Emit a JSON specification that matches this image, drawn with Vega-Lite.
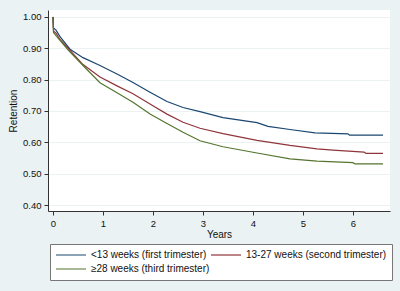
{
  "$schema": "https://vega.github.io/schema/vega-lite/v6.json",
  "width": 342,
  "height": 201,
  "autosize": {"type": "none"},
  "padding": {"left": 48, "top": 10, "right": 10, "bottom": 80},
  "background": "#eaf2f3",
  "config": {
    "view": {"fill": "white", "stroke": null},
    "font": "Liberation Sans",
    "axis": {
      "domainColor": "#333333",
      "tickColor": "#333333",
      "labelColor": "#111111",
      "titleColor": "#111111",
      "labelFont": "Liberation Sans",
      "titleFont": "Liberation Sans",
      "labelFontSize": 9.5,
      "titleFontSize": 10,
      "titleFontWeight": "normal",
      "tickSize": 4,
      "domainWidth": 1,
      "tickWidth": 1
    }
  },
  "data": {
    "values": [
      {"g": "<13 weeks (first trimester)", "t": 0, "s": 1.0},
      {"g": "<13 weeks (first trimester)", "t": 0.01, "s": 0.965},
      {"g": "<13 weeks (first trimester)", "t": 0.06, "s": 0.958},
      {"g": "<13 weeks (first trimester)", "t": 0.14, "s": 0.937},
      {"g": "<13 weeks (first trimester)", "t": 0.34, "s": 0.897},
      {"g": "<13 weeks (first trimester)", "t": 0.6, "s": 0.87},
      {"g": "<13 weeks (first trimester)", "t": 0.94, "s": 0.845},
      {"g": "<13 weeks (first trimester)", "t": 1.28, "s": 0.818},
      {"g": "<13 weeks (first trimester)", "t": 1.6, "s": 0.791},
      {"g": "<13 weeks (first trimester)", "t": 1.94, "s": 0.76},
      {"g": "<13 weeks (first trimester)", "t": 2.28, "s": 0.73},
      {"g": "<13 weeks (first trimester)", "t": 2.6, "s": 0.711},
      {"g": "<13 weeks (first trimester)", "t": 2.94, "s": 0.698},
      {"g": "<13 weeks (first trimester)", "t": 3.4, "s": 0.679},
      {"g": "<13 weeks (first trimester)", "t": 4.08, "s": 0.663},
      {"g": "<13 weeks (first trimester)", "t": 4.3, "s": 0.651},
      {"g": "<13 weeks (first trimester)", "t": 4.74, "s": 0.641},
      {"g": "<13 weeks (first trimester)", "t": 5.24, "s": 0.63},
      {"g": "<13 weeks (first trimester)", "t": 5.9, "s": 0.627},
      {"g": "<13 weeks (first trimester)", "t": 5.93, "s": 0.623},
      {"g": "<13 weeks (first trimester)", "t": 6.6, "s": 0.623},
      {"g": "13-27 weeks (second trimester)", "t": 0, "s": 1.0},
      {"g": "13-27 weeks (second trimester)", "t": 0.01, "s": 0.955},
      {"g": "13-27 weeks (second trimester)", "t": 0.06, "s": 0.948},
      {"g": "13-27 weeks (second trimester)", "t": 0.14, "s": 0.928},
      {"g": "13-27 weeks (second trimester)", "t": 0.3, "s": 0.9},
      {"g": "13-27 weeks (second trimester)", "t": 0.6, "s": 0.848},
      {"g": "13-27 weeks (second trimester)", "t": 0.94, "s": 0.808},
      {"g": "13-27 weeks (second trimester)", "t": 1.28, "s": 0.78},
      {"g": "13-27 weeks (second trimester)", "t": 1.6, "s": 0.755},
      {"g": "13-27 weeks (second trimester)", "t": 1.94, "s": 0.722},
      {"g": "13-27 weeks (second trimester)", "t": 2.28, "s": 0.69},
      {"g": "13-27 weeks (second trimester)", "t": 2.6, "s": 0.664},
      {"g": "13-27 weeks (second trimester)", "t": 2.94, "s": 0.645},
      {"g": "13-27 weeks (second trimester)", "t": 3.4, "s": 0.628},
      {"g": "13-27 weeks (second trimester)", "t": 4.08, "s": 0.606},
      {"g": "13-27 weeks (second trimester)", "t": 4.74, "s": 0.59},
      {"g": "13-27 weeks (second trimester)", "t": 5.28, "s": 0.579},
      {"g": "13-27 weeks (second trimester)", "t": 5.6, "s": 0.575},
      {"g": "13-27 weeks (second trimester)", "t": 6.22, "s": 0.569},
      {"g": "13-27 weeks (second trimester)", "t": 6.26, "s": 0.565},
      {"g": "13-27 weeks (second trimester)", "t": 6.6, "s": 0.565},
      {"g": "≥28 weeks (third trimester)", "t": 0, "s": 1.0},
      {"g": "≥28 weeks (third trimester)", "t": 0.01, "s": 0.95},
      {"g": "≥28 weeks (third trimester)", "t": 0.06, "s": 0.94},
      {"g": "≥28 weeks (third trimester)", "t": 0.14, "s": 0.925},
      {"g": "≥28 weeks (third trimester)", "t": 0.3, "s": 0.895},
      {"g": "≥28 weeks (third trimester)", "t": 0.6, "s": 0.845},
      {"g": "≥28 weeks (third trimester)", "t": 0.94, "s": 0.79},
      {"g": "≥28 weeks (third trimester)", "t": 1.28, "s": 0.758},
      {"g": "≥28 weeks (third trimester)", "t": 1.6, "s": 0.728},
      {"g": "≥28 weeks (third trimester)", "t": 1.94, "s": 0.69},
      {"g": "≥28 weeks (third trimester)", "t": 2.28, "s": 0.66},
      {"g": "≥28 weeks (third trimester)", "t": 2.6, "s": 0.632},
      {"g": "≥28 weeks (third trimester)", "t": 2.94, "s": 0.605},
      {"g": "≥28 weeks (third trimester)", "t": 3.4, "s": 0.586},
      {"g": "≥28 weeks (third trimester)", "t": 4.08, "s": 0.566},
      {"g": "≥28 weeks (third trimester)", "t": 4.74, "s": 0.547},
      {"g": "≥28 weeks (third trimester)", "t": 5.28, "s": 0.54},
      {"g": "≥28 weeks (third trimester)", "t": 6.0, "s": 0.535},
      {"g": "≥28 weeks (third trimester)", "t": 6.04, "s": 0.531},
      {"g": "≥28 weeks (third trimester)", "t": 6.6, "s": 0.531}
    ]
  },
  "mark": {"type": "line", "strokeWidth": 1.2, "interpolate": "linear"},
  "encoding": {
    "x": {
      "field": "t",
      "type": "quantitative",
      "title": "Years",
      "scale": {"domain": [-0.1, 6.74], "nice": false, "zero": false},
      "axis": {"values": [0, 1, 2, 3, 4, 5, 6], "format": "d", "grid": false, "labelPadding": 3, "titlePadding": 2}
    },
    "y": {
      "field": "s",
      "type": "quantitative",
      "title": "Retention",
      "scale": {"domain": [0.381, 1.022], "nice": false, "zero": false},
      "axis": {
        "values": [0.4, 0.5, 0.6, 0.7, 0.8, 0.9, 1.0],
        "format": ".2f",
        "grid": true,
        "gridColor": "#eaf2f3",
        "gridWidth": 1,
        "labelPadding": 3,
        "titlePadding": 4
      }
    },
    "color": {
      "field": "g",
      "type": "nominal",
      "sort": ["<13 weeks (first trimester)", "13-27 weeks (second trimester)", "≥28 weeks (third trimester)"],
      "scale": {
        "domain": ["<13 weeks (first trimester)", "13-27 weeks (second trimester)", "≥28 weeks (third trimester)"],
        "range": ["#1a476f", "#90353b", "#55752f"]
      },
      "legend": {
        "title": null,
        "orient": "none",
        "legendX": 2,
        "legendY": 234,
        "direction": "horizontal",
        "columns": 2,
        "symbolType": "stroke",
        "symbolSize": 900,
        "symbolStrokeWidth": 1.2,
        "clipHeight": 12,
        "labelFontSize": 10,
        "labelFont": "Liberation Sans",
        "labelColor": "#111111",
        "labelOffset": 4,
        "columnPadding": 0,
        "rowPadding": 2,
        "padding": 5,
        "fillColor": "white",
        "strokeColor": "#777777"
      }
    }
  }
}
